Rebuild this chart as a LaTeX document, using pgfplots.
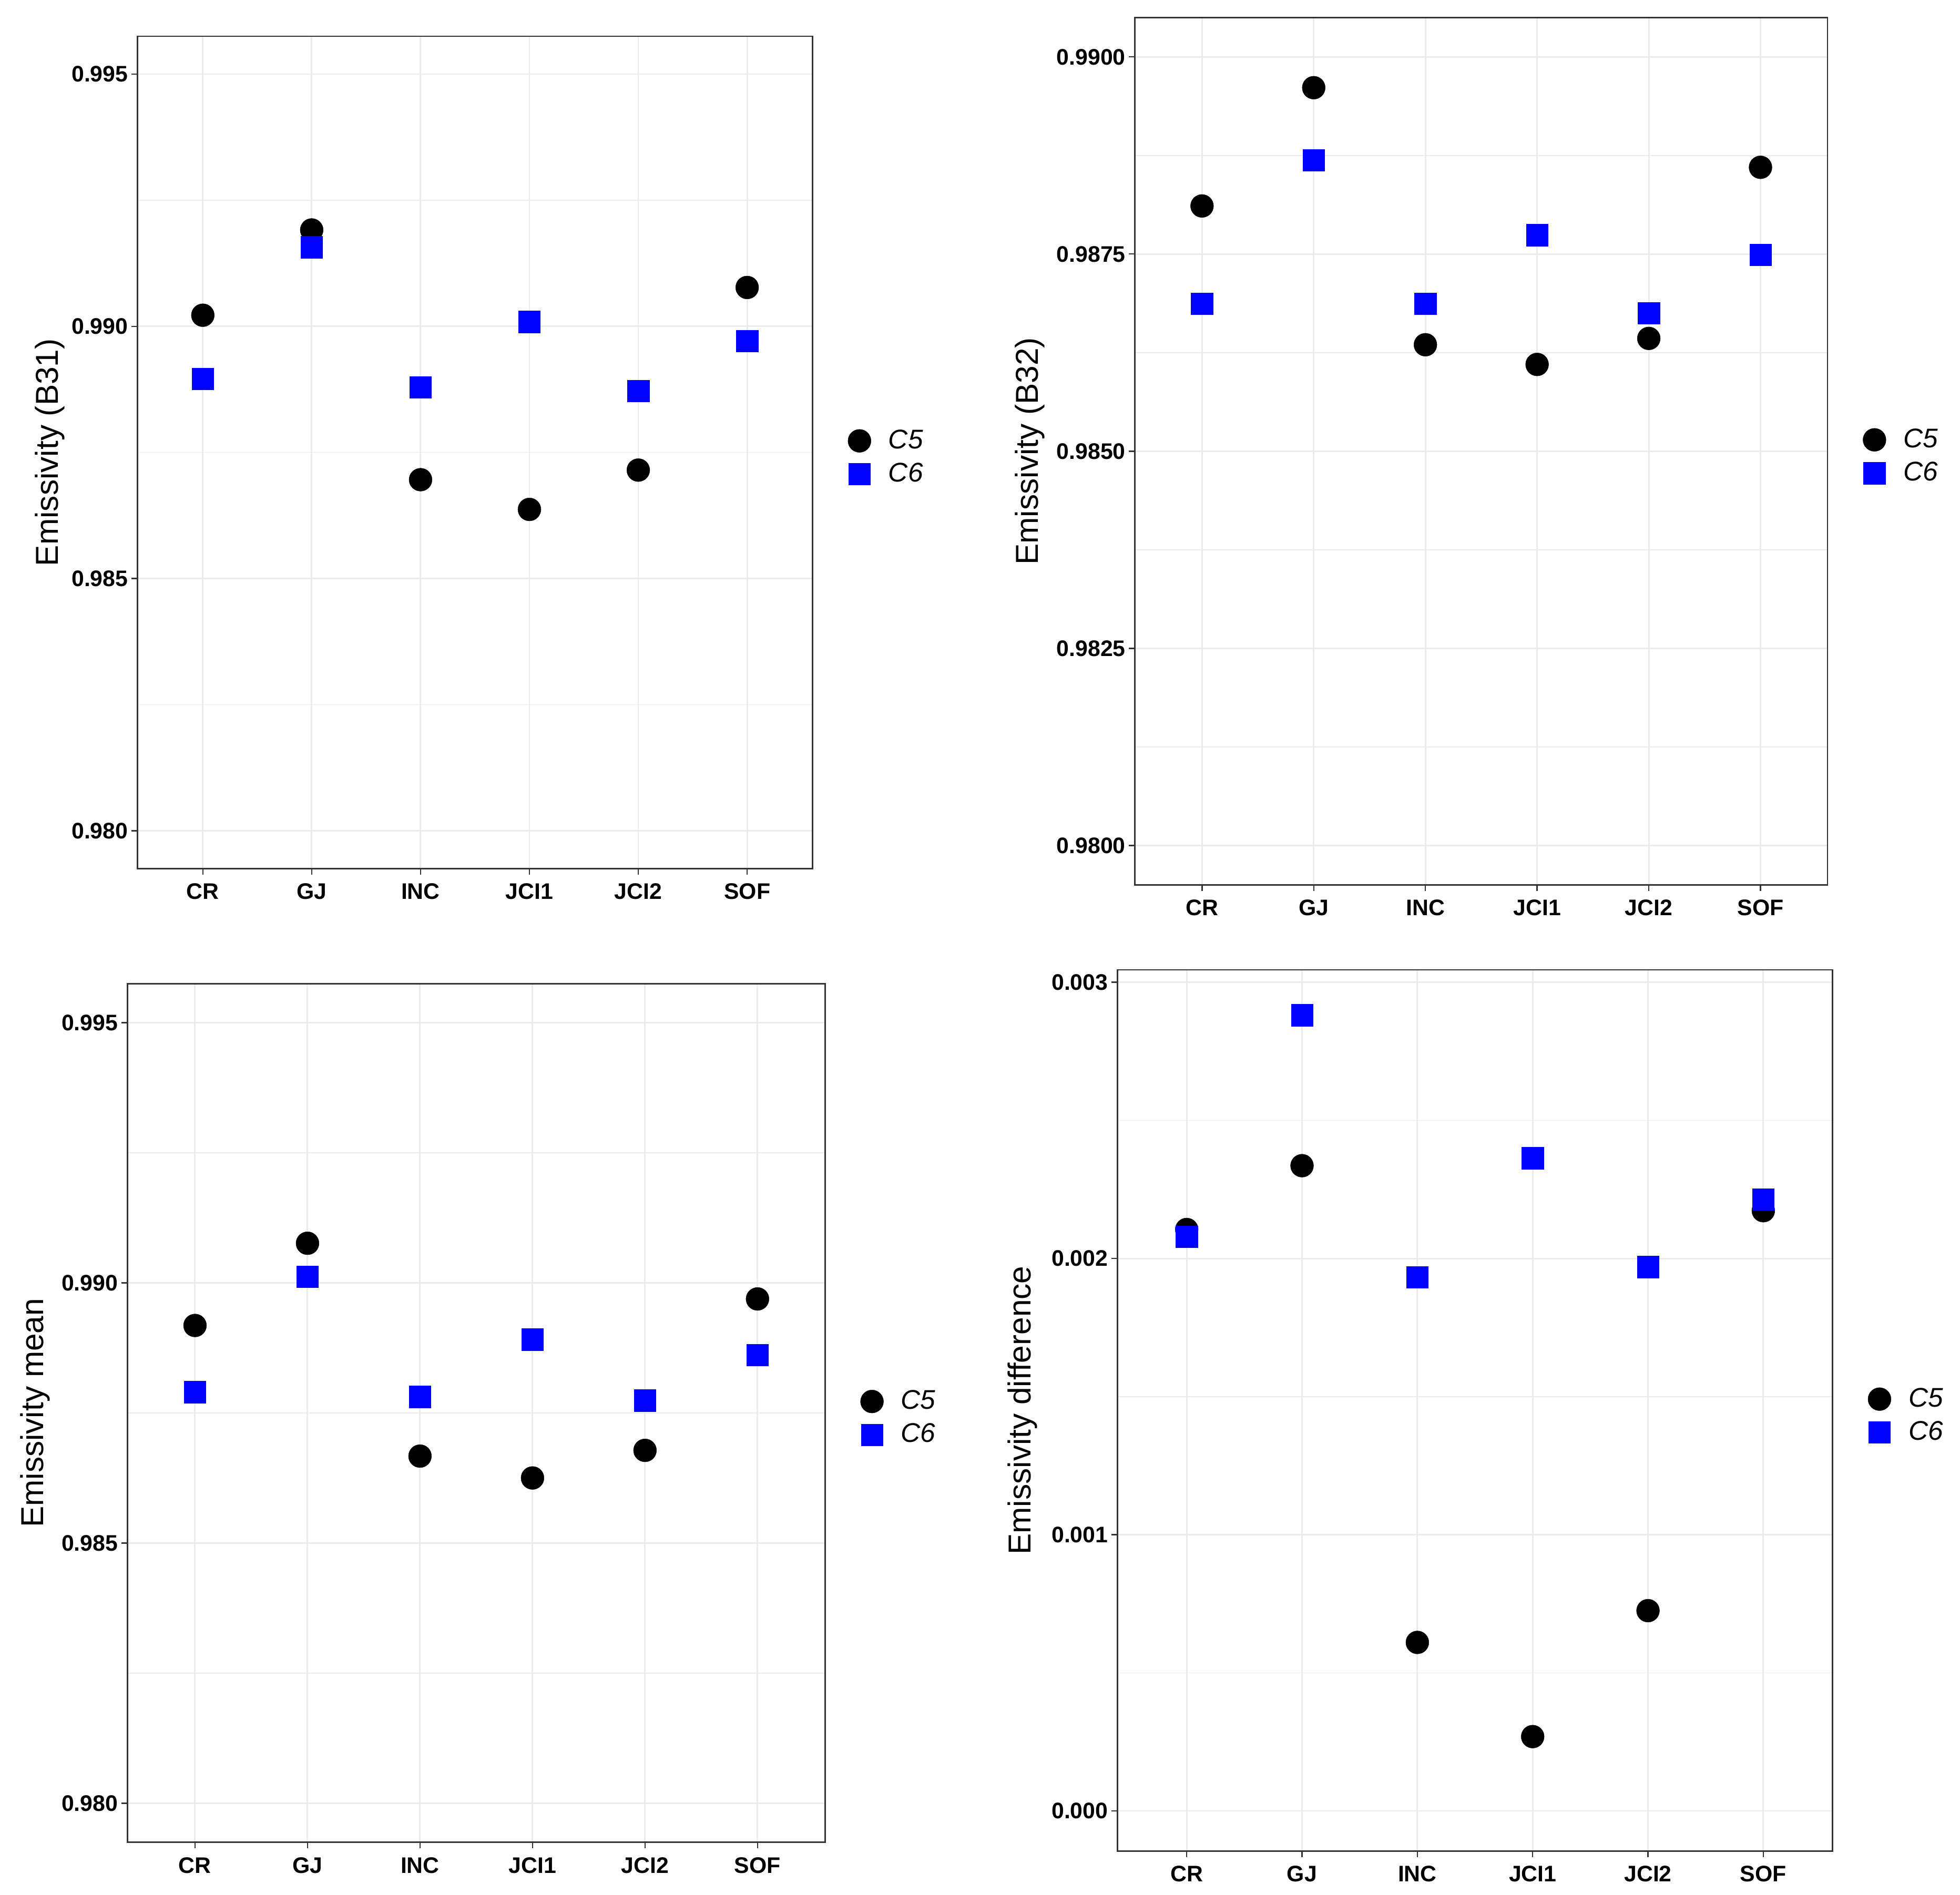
\documentclass[border=0pt]{standalone}
\usepackage{pgfplots}
\pgfplotsset{compat=1.18}
\usepackage{fontspec}
\setmainfont{Liberation Sans}
\definecolor{gridgray}{HTML}{EBEBEB}
\definecolor{framegray}{HTML}{333333}
\definecolor{pureblue}{HTML}{0000FF}

\pgfplotsset{
  emis/.style={
    scale only axis,
    anchor=north west,
    xmin=0.4, xmax=6.6,
    xtick={1,2,3,4,5,6},
    xticklabels={CR,GJ,INC,JCI1,JCI2,SOF},
    xtick pos=bottom, ytick pos=left,
    scaled y ticks=false,
    tick align=outside,
    major tick length=2.5pt,
    minor tick length=0pt,
    every tick/.style={framegray, line width=0.5pt},
    axis line style={framegray, line width=0.6pt},
    xmajorgrids, ymajorgrids, yminorgrids,
    major grid style={gridgray, line width=0.6pt},
    minor grid style={gridgray, line width=0.3pt},
    ticklabel style={font=\bfseries\fontsize{9}{10}\selectfont, text=black},
    yticklabel style={xshift=2.2pt},
    every axis y label/.style={rotate=90, anchor=center,
      font=\fontsize{12.7}{14}\selectfont},
    legend style={at={(1,0.494)}, anchor=west, xshift=14pt,
      draw=none, fill=none, inner sep=0pt, row sep=4.2pt,
      font=\itshape\fontsize{10.8}{12}\selectfont,
      nodes={inner sep=0pt},
      /tikz/every odd column/.append style={column sep=7pt}},
    legend cell align=left,
    legend image code/.code={\draw[only marks,#1] plot coordinates {(0pt,0pt)};},
  },
  cfive/.style={only marks, mark=*, mark size=4.6pt,
    mark options={fill=black, draw=black, line width=0.1pt}},
  csix/.style={only marks, mark=square*, mark size=4.35pt,
    mark options={fill=pureblue, draw=pureblue, line width=0.1pt}},
}

\begin{document}
\begin{tikzpicture}
\path[use as bounding box] (0pt,0pt) rectangle (784pt,-758pt);

% top left: band 31
\begin{axis}[emis, at={(55pt,-14.5pt)}, width=270pt, height=333pt,
  ymin=0.97925, ymax=0.99575,
  ytick={0.980,0.985,0.990,0.995},
  yticklabels={0.980,0.985,0.990,0.995},
  minor ytick={0.9825,0.9875,0.9925},
  ylabel={Emissivity (B31)},
  ylabel style={at={(axis description cs:-0.1296,0.5)}}]
\addplot[cfive] coordinates {(1,0.99022)(2,0.99191)(3,0.98696)(4,0.98637)(5,0.98715)(6,0.99077)};
\addlegendentry{C5}
\addplot[csix] coordinates {(1,0.98896)(2,0.99157)(3,0.98879)(4,0.99009)(5,0.98872)(6,0.98971)};
\addlegendentry{C6}
\end{axis}

% top right: band 32
\begin{axis}[emis, at={(454pt,-7pt)}, width=277pt, height=347pt,
  ymin=0.9795, ymax=0.9905,
  ytick={0.9800,0.9825,0.9850,0.9875,0.9900},
  yticklabels={0.9800,0.9825,0.9850,0.9875,0.9900},
  minor ytick={0.98125,0.98375,0.98625,0.98875},
  ylabel={Emissivity (B32)},
  ylabel style={at={(axis description cs:-0.1516,0.5)}}]
\addplot[cfive] coordinates {(1,0.98811)(2,0.98961)(3,0.98635)(4,0.98610)(5,0.98643)(6,0.98860)};
\addlegendentry{C5}
\addplot[csix] coordinates {(1,0.98687)(2,0.98869)(3,0.98687)(4,0.98774)(5,0.98675)(6,0.98749)};
\addlegendentry{C6}
\end{axis}

% bottom left: mean
\begin{axis}[emis, at={(51pt,-393.5pt)}, width=279pt, height=343.5pt,
  ymin=0.97925, ymax=0.99575,
  ytick={0.980,0.985,0.990,0.995},
  yticklabels={0.980,0.985,0.990,0.995},
  minor ytick={0.9825,0.9875,0.9925},
  ylabel={Emissivity mean},
  ylabel style={at={(axis description cs:-0.1326,0.5)}}]
\addplot[cfive] coordinates {(1,0.98918)(2,0.99076)(3,0.98667)(4,0.98625)(5,0.98678)(6,0.98969)};
\addlegendentry{C5}
\addplot[csix] coordinates {(1,0.98790)(2,0.99012)(3,0.98781)(4,0.98891)(5,0.98774)(6,0.98861)};
\addlegendentry{C6}
\end{axis}

% bottom right: difference
\begin{axis}[emis, at={(447pt,-388pt)}, width=286pt, height=352.5pt,
  ymin=-0.000145, ymax=0.003045,
  ytick={0,0.001,0.002,0.003},
  yticklabels={0.000,0.001,0.002,0.003},
  minor ytick={0.0005,0.0015,0.0025},
  ylabel={Emissivity difference},
  ylabel style={at={(axis description cs:-0.1329,0.5)}}]
\addplot[cfive] coordinates {(1,0.002105)(2,0.002336)(3,0.000610)(4,0.000269)(5,0.000725)(6,0.002173)};
\addlegendentry{C5}
\addplot[csix] coordinates {(1,0.002079)(2,0.002881)(3,0.001932)(4,0.002363)(5,0.001969)(6,0.002214)};
\addlegendentry{C6}
\end{axis}
\end{tikzpicture}
\end{document}
